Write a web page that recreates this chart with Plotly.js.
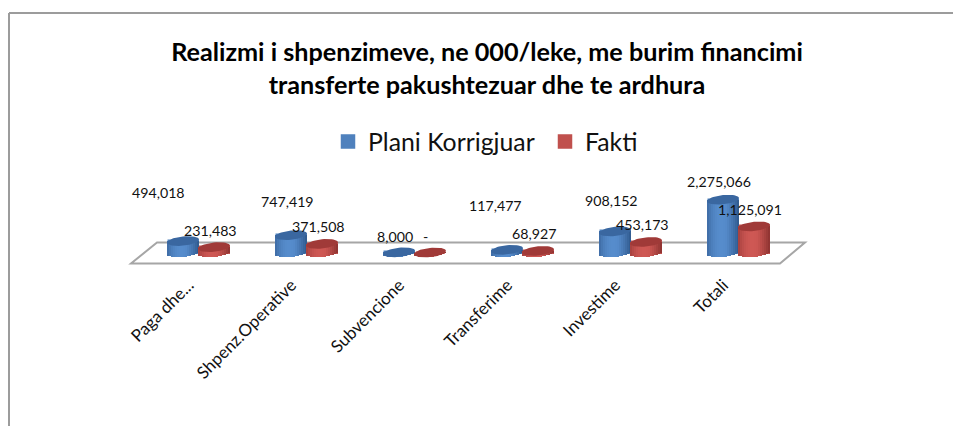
<!DOCTYPE html>
<html><head><meta charset="utf-8">
<script src="https://cdn.plot.ly/plotly-3.0.1.min.js"></script>
<style>html,body{margin:0;padding:0;background:#fff}</style>
</head><body><div id="chart" style="width:953px;height:426px"></div>
<script>
const categories = ["Paga dhe...","Shpenz.Operative","Subvencione","Transferime","Investime","Totali"];
const planiKorrigjuar = [494018,747419,8000,117477,908152,2275066];
const fakti = [231483,371508,0,68927,453173,1125091];
const planiLabels = ["494,018","747,419","8,000","117,477","908,152","2,275,066"];
const faktiLabels = ["231,483","371,508","-","68,927","453,173","1,125,091"];
const planiLabelDx = [-25,-4,-4,-12,-4,-4];
const planiLabelDy = [49,34,16,44,31,18];
const faktiLabelDx = [-4,-4,-5,-4,-4,-4];
const faktiLabelDy = [17,17,16,17,17,17];
const tickShift = [-0.09,-0.14,-0.14,-0.14,-0.14,-0.14];

const W=953,H=426,plotH=266;
const catPx=108,cat0=198.5,zeroPx=252.5,pxPerUnit=23.2e-6;
const xOfPx=p=>(p-cat0)/catPx;
const yOfPx=p=>(zeroPx-p)/pxPerUnit;
const rx=16,ry=4.6,tilt=1.6,offset=15.5/catPx,N=16;
const mix=(a,b,t)=>a.map((v,i)=>Math.round(v+(b[i]-v)*t));
const rgb=c=>`rgb(${c[0]},${c[1]},${c[2]})`;
const series=[
 {name:"Plani Korrigjuar",vals:planiKorrigjuar,off:-offset,base:[79,129,189],dark:[47,88,140],light:[86,140,204],cap:[58,103,160]},
 {name:"Fakti",vals:fakti,off:offset,base:[192,80,77],dark:[140,50,48],light:[206,88,84],cap:[160,58,56]}
];
const traces=[];
series.forEach(s=>{
  traces.push({type:"bar",name:s.name,x:categories.map((_,i)=>i+s.off),y:s.vals,width:(2*rx-3)/catPx,
    marker:{color:rgb(s.base),line:{width:2.5,color:rgb(s.base)}},hoverinfo:"name+y",showlegend:true});
});
series.forEach(s=>{
  const xs=[],ys=[],bs=[],cs=[];
  s.vals.forEach((v,i)=>{
    for(let k=0;k<N;k++){
      const t=-1+(2*k+1)/N;
      const low=zeroPx+ry*Math.sqrt(1-t*t)-tilt*t;
      const bottom=yOfPx(low);
      xs.push(i+s.off+t*rx/catPx); bs.push(bottom); ys.push(v-bottom);
      cs.push(rgb(t<0.1?mix(s.light,s.dark,Math.pow(Math.abs(t+0.1)/1.1,2.2)):mix(s.light,s.dark,Math.pow((t-0.1)/0.9,1.3))));
    }
  });
  traces.push({type:"bar",x:xs,y:ys,base:bs,width:2.2*rx/catPx/N,marker:{color:cs,line:{width:0}},showlegend:false,hoverinfo:"skip"});
});
series.forEach(s=>{
  const xs=[],ys=[];
  s.vals.forEach((v,i)=>{
    const cy=zeroPx-v*pxPerUnit;
    for(let a=0;a<=48;a++){
      const th=a/48*2*Math.PI;
      xs.push(i+s.off+Math.cos(th)*rx/catPx);
      ys.push(yOfPx(cy-ry*Math.sin(th)-tilt*Math.cos(th)));
    }
    xs.push(null);ys.push(null);
  });
  traces.push({type:"scatter",mode:"lines",x:xs,y:ys,fill:"toself",fillcolor:rgb(s.cap),line:{width:0,color:rgb(s.cap)},showlegend:false,hoverinfo:"skip"});
});
const font="Lato, 'Open Sans', sans-serif";
const annotations=[];
series.forEach((s,j)=>{
  const labs=j?faktiLabels:planiLabels,dx=j?faktiLabelDx:planiLabelDx,dy=j?faktiLabelDy:planiLabelDy;
  s.vals.forEach((v,i)=>annotations.push({x:i+s.off,y:v,xref:"x",yref:"y",text:labs[i],showarrow:false,
    xanchor:"center",yanchor:"middle",xshift:dx[i],yshift:dy[i],font:{family:font,size:14.2,color:"#111"}}));
});
const floor=[[157,242.5],[805,242.5],[780,263.5],[131,263.5]];
const floorPath="M"+floor.map(p=>xOfPx(p[0])+","+yOfPx(p[1])).join(" L")+" Z";
const layout={
  width:W,height:H,autosize:false,paper_bgcolor:"#fff",plot_bgcolor:"rgba(0,0,0,0)",
  margin:{l:0,r:0,t:0,b:H-plotH,pad:0},barmode:"overlay",bargap:0,
  title:{text:"Realizmi i shpenzimeve, ne 000/leke, me burim financimi<br>transferte pakushtezuar dhe te ardhura",
    x:487/W,xanchor:"center",xref:"container",y:1-61/H,yref:"container",yanchor:"middle",
    font:{family:font,size:25.2,color:"#000",weight:700}},
  legend:{orientation:"h",x:545/W,xanchor:"center",y:(plotH-142)/plotH,yanchor:"middle",font:{family:font,size:24.8,color:"#111"},
    entrywidth:172,entrywidthmode:"pixels",traceorder:"normal",bgcolor:"rgba(0,0,0,0)"},
  xaxis:{range:[xOfPx(0),xOfPx(W)],tickmode:"array",tickvals:categories.map((_,i)=>i+tickShift[i]),ticktext:categories,tickangle:-45,
    showgrid:false,zeroline:false,showline:false,ticks:"",ticklabelstandoff:5,tickfont:{family:font,size:17,color:"#111"},fixedrange:true},
  yaxis:{range:[yOfPx(plotH),yOfPx(0)],visible:false,fixedrange:true},
  annotations,
  shapes:[
    {type:"path",xref:"x",yref:"y",path:floorPath,layer:"below",fillcolor:"#fff",line:{color:"#a6a6a6",width:2}},
    {type:"line",xref:"paper",yref:"paper",x0:9/W,x1:1,y0:(plotH-13)/plotH,y1:(plotH-13)/plotH,line:{color:"#9c9c9c",width:2}},
    {type:"line",xref:"paper",yref:"paper",x0:9/W,x1:9/W,y0:(plotH-13)/plotH,y1:(plotH-H)/plotH,line:{color:"#9c9c9c",width:2}}
  ]
};
Plotly.newPlot("chart",traces,layout,{displayModeBar:false,responsive:false});
</script></body></html>
